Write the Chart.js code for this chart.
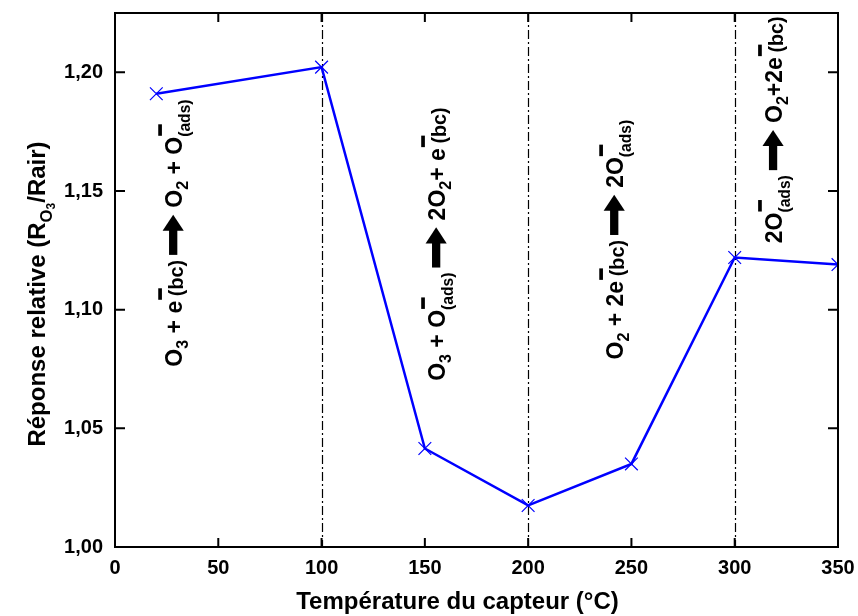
<!DOCTYPE html>
<html>
<head>
<meta charset="utf-8">
<script src="https://cdn.jsdelivr.net/npm/chart.js@4.4.1/dist/chart.umd.min.js"></script>
<style>
  html, body { margin: 0; background: #fff; }
  #box { width: 858px; height: 616px; }
</style>
</head>
<body>
<div id="box"><canvas id="graphe"></canvas></div>
<script>
// données
const temperatures = [20, 100, 150, 200, 250, 300, 350];
const reponse = [1.191, 1.2022, 1.0415, 1.0175, 1.035, 1.122, 1.119];
const xTicks = [0, 50, 100, 150, 200, 250, 300, 350];
const yTicks = [1.00, 1.05, 1.10, 1.15, 1.20];
const limitesZones = [100, 200, 300];

// réactions écrites dans chaque zone (n: normal, s: indice, mb/ml: exposant "-" + texte, a: flèche)
const reaction1 = [['n','O'],['s','3'],['n',' + e'],['mb','(bc)'],['a'],['n','O'],['s','2'],['n',' + O'],['ml','(ads)']];
const reaction2 = [['n','O'],['s','3'],['n',' + O'],['ml','(ads)'],['a'],['n','2O'],['s','2'],['n','+ e'],['mb','(bc)']];
const reaction3 = [['n','O'],['s','2'],['n',' + 2e'],['mb','(bc)'],['a'],['n','2O'],['ml','(ads)']];
const reaction4 = [['n','2O'],['ml','(ads)'],['a'],['n','O'],['s','2'],['n','+2e'],['mb','(bc)']];
const reactions = [reaction1, reaction2, reaction3, reaction4];
const ancrages = [[32.4, 1.076], [159.7, 1.070], [245.9, 1.079], [322.8, 1.128]]; // début de la ligne de base

const titreY = [['n','Réponse relative (R'],['s','O'],['ss','3'],['n','/Rair)']];
const titreX = 'Température du capteur (°C)';

const POLICE = '"Liberation Sans", Arial, sans-serif';

// texte riche (indices, exposants, flèche) le long de l'axe x local
function texteRiche(ctx, parts, size, draw) {
  let x = 0;
  const f = s => `bold ${s}px ${POLICE}`;
  for (const p of parts) {
    const kind = p[0], txt = p[1];
    if (kind === 'n') {
      ctx.font = f(size);
      if (draw) ctx.fillText(txt, x, 0);
      x += ctx.measureText(txt).width;
    } else if (kind === 's' || kind === 'ss') {
      const fs = kind === 's' ? size * 0.7 : size * 0.5;
      const dy = kind === 's' ? size * 0.28 : size * 0.42;
      ctx.font = f(fs);
      if (draw) ctx.fillText(txt, x, dy);
      x += ctx.measureText(txt).width;
    } else if (kind === 'mb') {
      const barW = size * 0.5;
      if (draw) ctx.fillRect(x + 1, -size * 1.03, barW, size * 0.16);
      ctx.font = f(size * 0.86);
      const x1 = x + barW * 0.4;
      if (draw) ctx.fillText(txt, x1, size * 0.04);
      x = x1 + ctx.measureText(txt).width;
    } else if (kind === 'ml') {
      const barW = size * 0.5;
      if (draw) ctx.fillRect(x + 1, -size * 1.03, barW, size * 0.16);
      ctx.font = f(size * 0.68);
      if (draw) ctx.fillText(txt, x, size * 0.34);
      x += Math.max(barW, ctx.measureText(txt).width);
    } else if (kind === 'a') {
      const x0 = x + size * 0.22, len = size * 1.75, hl = size * 0.7;
      const cy = -size * 0.38, sh = size * 0.18, hw = size * 0.46;
      if (draw) {
        ctx.fillRect(x0, cy - sh, len - hl + 1, sh * 2);
        ctx.beginPath();
        ctx.moveTo(x0 + len - hl, cy - hw);
        ctx.lineTo(x0 + len, cy);
        ctx.lineTo(x0 + len - hl, cy + hw);
        ctx.closePath();
        ctx.fill();
      }
      x = x0 + len + size * 0.3;
    }
  }
  return x;
}

function texteVertical(ctx, parts, size, px, py, centre) {
  ctx.save();
  ctx.translate(px, py);
  ctx.rotate(-Math.PI / 2);
  ctx.fillStyle = '#000';
  ctx.textBaseline = 'alphabetic';
  ctx.textAlign = 'left';
  const w = texteRiche(ctx, parts, size, false);
  if (centre) ctx.translate(-w / 2, 0);
  texteRiche(ctx, parts, size, true);
  ctx.restore();
}

// cadre, graduations internes, lignes pointillées et textes
const decor = {
  id: 'decor',
  beforeDatasetsDraw(chart) {
    const { ctx, chartArea: a, scales: { x } } = chart;
    ctx.save();
    ctx.strokeStyle = '#000';
    ctx.lineWidth = 1.2;
    ctx.setLineDash([9, 3, 2, 3]);
    limitesZones.forEach(v => {
      const px = Math.round(x.getPixelForValue(v)) + 0.5;
      ctx.beginPath();
      ctx.moveTo(px, a.top);
      ctx.lineTo(px, a.bottom);
      ctx.stroke();
    });
    ctx.restore();
  },
  afterDatasetsDraw(chart) {
    const { ctx, chartArea: a, scales: { x, y } } = chart;
    ctx.save();
    ctx.strokeStyle = '#000';
    ctx.lineWidth = 2;
    ctx.strokeRect(a.left, a.top, a.right - a.left, a.bottom - a.top);
    ctx.beginPath();
    xTicks.forEach(v => {
      const px = x.getPixelForValue(v);
      ctx.moveTo(px, a.bottom); ctx.lineTo(px, a.bottom - 9);
      ctx.moveTo(px, a.top); ctx.lineTo(px, a.top + 9);
    });
    yTicks.forEach(v => {
      const py = y.getPixelForValue(v);
      ctx.moveTo(a.left, py); ctx.lineTo(a.left + 10, py);
      ctx.moveTo(a.right, py); ctx.lineTo(a.right - 10, py);
    });
    ctx.stroke();

    reactions.forEach((r, i) => {
      texteVertical(ctx, r, 23, x.getPixelForValue(ancrages[i][0]), y.getPixelForValue(ancrages[i][1]), false);
    });

    texteVertical(ctx, titreY, 24, 45, (a.top + a.bottom) / 2 + 14, true);

    ctx.font = `bold 24px ${POLICE}`;
    ctx.textAlign = 'center';
    ctx.fillStyle = '#000';
    ctx.fillText(titreX, (a.left + a.right) / 2 - 19, 609);
    ctx.restore();
  }
};

const sansMarge = s => { s.paddingTop = 0; s.paddingBottom = 0; s.paddingLeft = 0; s.paddingRight = 0; };

class Graphe {
  constructor(ctx) {
    this.ctx = ctx;
    this.chart = null;
  }
  render() {
    this.chart = new Chart(this.ctx, {
      type: 'scatter',
      data: {
        datasets: [{
          data: temperatures.map((t, i) => ({ x: t, y: reponse[i] })),
          showLine: true,
          borderColor: '#0000ff',
          borderWidth: 2.5,
          pointStyle: 'crossRot',
          pointRadius: 9,
          pointBorderWidth: 1.2,
          pointBorderColor: '#0000ff',
          pointBackgroundColor: '#0000ff'
        }]
      },
      options: {
        responsive: true,
        maintainAspectRatio: false,
        animation: false,
        devicePixelRatio: 1,
        layout: { padding: { left: 0, right: 20, top: 13, bottom: 0 } },
        plugins: { legend: { display: false }, tooltip: { enabled: false } },
        scales: {
          x: {
            type: 'linear', min: 0, max: 350,
            grid: { display: false, drawTicks: false },
            border: { display: false },
            afterBuildTicks: s => { s.ticks = xTicks.map(v => ({ value: v })); },
            afterFit: s => { s.height = 69; sansMarge(s); },
            ticks: { padding: 9, color: '#000', font: { family: POLICE, size: 20, weight: 'bold' } }
          },
          y: {
            type: 'linear', min: 1.0, max: 1.225,
            grid: { display: false, drawTicks: false },
            border: { display: false },
            afterBuildTicks: s => { s.ticks = yTicks.map(v => ({ value: v })); },
            afterFit: s => { s.width = 115; sansMarge(s); },
            ticks: {
              padding: 12, color: '#000',
              font: { family: POLICE, size: 20, weight: 'bold' },
              callback: v => v.toFixed(2).replace('.', ',')
            }
          }
        }
      },
      plugins: [decor]
    });
  }
}

new Graphe(document.getElementById('graphe')).render();
</script>
</body>
</html>
